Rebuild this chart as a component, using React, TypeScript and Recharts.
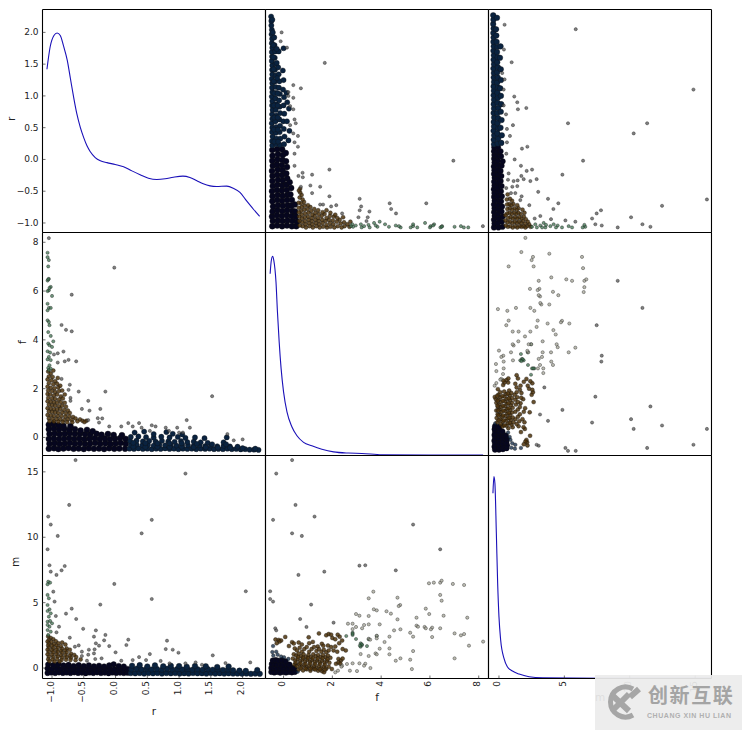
import React from 'react';
import { ComposedChart, Scatter, Line, XAxis, YAxis } from 'recharts';

type Pair = [number, number];

const rDomain: Pair = [-1.15, 2.36];
const fDomain: Pair = [-0.74, 8.4];
const mDomain: Pair = [-0.8, 16.25];
const rTicks = [-1, -0.5, 0, 0.5, 1, 1.5, 2];
const fTicks = [0, 2, 4, 6, 8];
const mTicks = [0, 5, 10, 15];

// density curves, read against the printed scale of their row
const kdeR: Pair[] = [[-1.08, 1.42], [-1.03, 1.77], [-0.97, 1.95], [-0.92, 1.99], [-0.87, 1.95], [-0.82, 1.79], [-0.76, 1.56], [-0.71, 1.27], [-0.66, 0.98], [-0.61, 0.72], [-0.555, 0.505], [-0.5, 0.34], [-0.45, 0.215], [-0.4, 0.126], [-0.32, 0.03], [-0.24, -0.02], [-0.136, -0.05], [-0.005, -0.08], [0.126, -0.116], [0.257, -0.18], [0.387, -0.24], [0.518, -0.295], [0.65, -0.316], [0.78, -0.305], [0.91, -0.28], [1.06, -0.263], [1.17, -0.284], [1.28, -0.337], [1.38, -0.384], [1.487, -0.416], [1.59, -0.426], [1.75, -0.42], [1.853, -0.453], [1.958, -0.52], [2.063, -0.653], [2.17, -0.784], [2.267, -0.895]];
const kdeF: Pair[] = [[-0.55, 6.71], [-0.51, 7.19], [-0.45, 7.42], [-0.4, 7.26], [-0.31, 6.37], [-0.25, 5.14], [-0.18, 3.92], [-0.1, 2.82], [0, 1.87], [0.14, 1.05], [0.34, 0.44], [0.55, 0.07], [0.82, -0.2], [1.16, -0.34], [1.57, -0.48], [2.05, -0.59], [2.66, -0.64], [3.21, -0.655], [4.03, -0.71], [5.94, -0.72], [8.18, -0.72]];
const kdeM: Pair[] = [[-0.46, 13.37], [-0.385, 14.64], [-0.31, 14.13], [-0.2, 10.3], [-0.1, 6.48], [0, 3.93], [0.13, 2.14], [0.385, 0.74], [0.64, 0.1], [1.03, -0.23], [1.54, -0.46], [2.3, -0.66], [3.33, -0.74], [8, -0.78], [16.2, -0.78]];

// r against f
const rfCore: Pair[] = [
  [-1.05, -0.46], [-0.97, -0.44], [-0.9, -0.47], [-0.82, -0.45], [-0.74, -0.43], [-0.66, -0.46], [-0.58, -0.45], [-0.5, -0.47], [-0.42, -0.44], [-0.34, -0.46], [-0.26, -0.45], [-0.18, -0.47], [-0.1, -0.44], [-0.02, -0.46], [0.06, -0.45], [0.15, -0.46],
  [-1.04, -0.26], [-0.96, -0.24], [-0.88, -0.27], [-0.8, -0.25], [-0.72, -0.23], [-0.64, -0.26], [-0.56, -0.24], [-0.48, -0.27], [-0.4, -0.25], [-0.32, -0.23], [-0.24, -0.26], [-0.16, -0.24], [-0.08, -0.27], [0, -0.25], [0.08, -0.23], [0.16, -0.26],
  [-1.05, -0.06], [-0.97, -0.04], [-0.89, -0.07], [-0.81, -0.05], [-0.73, -0.03], [-0.65, -0.06], [-0.57, -0.04], [-0.49, -0.07], [-0.41, -0.05], [-0.33, -0.03], [-0.25, -0.06], [-0.17, -0.04], [-0.09, -0.07], [-0.01, -0.05], [0.07, -0.03], [0.16, -0.06],
  [-1.04, 0.14], [-0.96, 0.16], [-0.88, 0.13], [-0.8, 0.15], [-0.72, 0.17], [-0.64, 0.14], [-0.56, 0.16], [-0.48, 0.13], [-0.4, 0.12], [-0.3, 0.15], [-0.22, 0.11], [-0.12, 0.14], [-0.03, 0.1], [0.1, 0.09],
  [-1.05, 0.34], [-0.97, 0.37], [-0.89, 0.33], [-0.81, 0.36], [-0.73, 0.32], [-0.64, 0.34], [-0.55, 0.28], [-0.45, 0.31], [-0.36, 0.25],
  [-1.05, 0.52], [-0.98, 0.55], [-0.9, 0.5], [-0.82, 0.47], [-0.71, 0.46],
];
const rfBlue: Pair[] = [
  [0.22, -0.46], [0.29, -0.47], [0.36, -0.45], [0.43, -0.47], [0.5, -0.46], [0.57, -0.48], [0.64, -0.46], [0.71, -0.47], [0.78, -0.45], [0.85, -0.47], [0.92, -0.46], [0.99, -0.48], [1.06, -0.46], [1.13, -0.47], [1.2, -0.46], [1.27, -0.48], [1.34, -0.46], [1.41, -0.47], [1.48, -0.46], [1.55, -0.48], [1.62, -0.47], [1.69, -0.48], [1.76, -0.46], [1.83, -0.48], [1.9, -0.47], [1.97, -0.49], [2.04, -0.48], [2.11, -0.5], [2.18, -0.5], [2.25, -0.51],
  [0.24, -0.31], [0.33, -0.29], [0.42, -0.32], [0.51, -0.3], [0.6, -0.33], [0.69, -0.3], [0.78, -0.32], [0.87, -0.31], [0.96, -0.33], [1.05, -0.3], [1.14, -0.32], [1.23, -0.34], [1.32, -0.32], [1.41, -0.35], [1.5, -0.33], [1.6, -0.36], [1.7, -0.34], [1.8, -0.37], [1.92, -0.38],
  [0.23, -0.15], [0.33, -0.13], [0.43, -0.16], [0.53, -0.14], [0.63, -0.17], [0.73, -0.14], [0.83, -0.16], [0.93, -0.18], [1.03, -0.15], [1.13, -0.19], [1.23, -0.17], [1.34, -0.2], [1.45, -0.22], [1.7, -0.2],
  [0.24, 0.02], [0.36, 0.04], [0.48, 0.01], [0.6, -0.01], [0.72, 0.03], [0.85, 0], [0.98, 0.02], [1.1, -0.02], [1.25, 0], [1.4, -0.03], [1.75, 0],
  [0.3, 0.2], [0.45, 0.24], [0.6, 0.14], [0.8, 0.22], [0.9, 0.15], [1.05, 0.12],
  [0.28, -0.38], [0.47, -0.39], [0.66, -0.38], [0.85, -0.39], [1.04, -0.38], [1.23, -0.4], [1.42, -0.41], [1.61, -0.42], [1.8, -0.42], [2, -0.44], [2.2, -0.46],
  [0.28, -0.22], [0.47, -0.23], [0.66, -0.24], [0.85, -0.24], [1.04, -0.24], [1.28, -0.26], [1.52, -0.28], [1.74, -0.28],
];
const rfBrown: Pair[] = [
  [-1.06, 2.7], [-1.02, 2.62], [-1.05, 2.5], [-0.99, 2.48], [-1.07, 2.38], [-1.01, 2.34], [-0.95, 2.3], [-1.05, 2.22], [-0.98, 2.18], [-0.92, 2.2], [-1.07, 2.08], [-1.02, 2.04], [-0.96, 2.02], [-0.9, 2.06],
  [-1.06, 1.92], [-1, 1.9], [-0.95, 1.86], [-0.89, 1.9], [-1.07, 1.78], [-1.03, 1.76], [-0.97, 1.72], [-0.92, 1.76], [-0.86, 1.68], [-1.06, 1.62], [-1, 1.6], [-0.95, 1.58], [-0.89, 1.56], [-0.83, 1.6],
  [-1.07, 1.48], [-1.02, 1.46], [-0.97, 1.44], [-0.92, 1.42], [-0.86, 1.44], [-0.8, 1.42], [-1.05, 1.34], [-1, 1.32], [-0.95, 1.3], [-0.89, 1.28], [-0.84, 1.3], [-0.78, 1.26],
  [-1.07, 1.2], [-1.02, 1.18], [-0.97, 1.16], [-0.92, 1.15], [-0.87, 1.17], [-0.81, 1.13], [-0.75, 1.1], [-1.05, 1.06], [-1, 1.04], [-0.95, 1.02], [-0.9, 1], [-0.84, 1.02], [-0.78, 0.98], [-0.72, 1],
  [-1.07, 0.92], [-1.02, 0.9], [-0.97, 0.88], [-0.91, 0.87], [-0.85, 0.88], [-0.79, 0.85], [-0.73, 0.86], [-0.67, 0.84], [-1.05, 0.78], [-0.99, 0.76], [-0.93, 0.75], [-0.87, 0.74], [-0.81, 0.72], [-0.75, 0.74], [-0.69, 0.72], [-0.63, 0.78], [-0.56, 0.74], [-0.52, 0.68],
  [-1.04, 0.66], [-0.97, 0.65], [-0.9, 0.64], [-0.83, 0.63], [-0.76, 0.62], [-0.68, 0.62], [-0.6, 0.66], [-0.46, 0.68], [-0.49, 0.63],
  [-0.98, 2.74], [-0.91, 2.44], [-0.87, 2.12], [-0.84, 1.92], [-0.8, 1.76],
];
const rfGreen: Pair[] = [
  [-1.07, 7.57], [-1.07, 7.39], [-1.05, 7.27], [-1.06, 7.01], [-1.05, 6.5], [-1.07, 6.43], [-1.06, 6.48], [-1.02, 6.17], [-1.05, 6.03], [-1.07, 6], [-1.04, 6.13], [-1, 5.8], [-1.07, 5.48], [-1.05, 5.31], [-1.02, 5.31], [-1.07, 5.21], [-1.07, 4.8], [-1.05, 4.73], [-1.04, 4.6], [-1.06, 4.32], [-1.02, 4.16], [-0.98, 3.94], [-1.06, 3.85], [-1.04, 3.78], [-1, 3.71], [-1.07, 3.53], [-1.03, 3.48], [-1.05, 3.3], [-1.07, 3.2], [-1.02, 3.17], [-1.04, 2.96], [-1.06, 2.85], [-1.02, 2.82], [-1.05, 2.76],
];
const rfGrey: Pair[] = [
  [-1.05, 8.17], [-0.02, 6.96], [-0.69, 5.85], [-0.85, 4.61], [-0.78, 4.41], [-0.69, 4.35], [-0.82, 3.52], [-0.74, 3.18], [-0.62, 3.12], [-0.8, 3.12], [-0.91, 3.07], [-0.97, 3.4], [-0.91, 3.45], [-0.16, 1.88], [-0.72, 2.16], [-0.74, 1.95], [-0.58, 1.88], [1.52, 1.69], [-0.43, 1.5], [-0.24, 1.17], [-0.41, 1.1], [-0.53, 1.17], [-0.71, 1.62], [-0.71, 1.5], [-0.85, 2.4], [1.12, 0.71], [1.76, 0.14], [2, -0.08], [1.86, -0.12], [1.17, 0.4], [0.57, 0.5], [0.63, 0.45], [0.37, 0.59], [0.2, 0.59], [0.27, 0.45], [0.41, 0.4], [0.79, 0.4], [0.84, 0.27], [0.97, 0.4], [1, 0.2], [1.06, 0.2], [0.54, 0.27], [0.09, 0.45], [-0.1, 0.45], [-0.28, 0.79], [-0.21, 0.78], [-0.26, 0.61], [-0.43, 0.71],
];

// r against m
const rmCore: Pair[] = [
  [-1.07, -0.38], [-1.01, -0.34], [-0.95, -0.38], [-0.89, -0.33], [-0.83, -0.37], [-0.77, -0.34], [-0.71, -0.38], [-0.65, -0.33], [-0.59, -0.37], [-0.53, -0.35], [-0.47, -0.39], [-0.41, -0.34], [-0.35, -0.37], [-0.29, -0.33], [-0.23, -0.38], [-0.17, -0.35], [-0.11, -0.39], [-0.05, -0.34], [0.01, -0.37], [0.07, -0.35], [0.13, -0.38], [0.19, -0.36],
  [-1.07, -0.04], [-1, -0.08], [-0.93, -0.03], [-0.86, -0.07], [-0.79, -0.02], [-0.72, -0.06], [-0.65, -0.03], [-0.58, -0.08], [-0.51, -0.04], [-0.44, -0.08], [-0.37, -0.03], [-0.3, -0.07], [-0.23, -0.04], [-0.16, -0.08], [-0.09, -0.05], [-0.02, -0.09], [0.05, -0.06], [0.12, -0.1], [0.19, -0.07],
  [-1.06, 0.27], [-0.98, 0.22], [-0.9, 0.28], [-0.82, 0.2], [-0.74, 0.24], [-0.66, 0.16], [-0.58, 0.22], [-0.5, 0.15], [-0.42, 0.2], [-0.34, 0.13], [-0.26, 0.18], [-0.18, 0.12], [-0.1, 0.2], [-0.03, 0.28], [0.05, 0.16], [0.13, 0.12],
];
const rmBlue: Pair[] = [
  [0.24, -0.38], [0.31, -0.4], [0.38, -0.37], [0.45, -0.41], [0.52, -0.38], [0.59, -0.4], [0.66, -0.37], [0.73, -0.41], [0.8, -0.38], [0.87, -0.4], [0.94, -0.38], [1.01, -0.41], [1.08, -0.39], [1.15, -0.41], [1.22, -0.38], [1.29, -0.4], [1.36, -0.39], [1.43, -0.42], [1.5, -0.38], [1.57, -0.41], [1.64, -0.39], [1.71, -0.42], [1.78, -0.4], [1.85, -0.42], [1.92, -0.41], [1.99, -0.43], [2.06, -0.41], [2.13, -0.44], [2.2, -0.42], [2.27, -0.44],
  [0.25, -0.1], [0.33, -0.06], [0.41, -0.12], [0.49, -0.05], [0.57, -0.11], [0.65, -0.07], [0.73, -0.13], [0.81, -0.06], [0.89, -0.11], [0.97, -0.08], [1.05, -0.12], [1.13, -0.07], [1.21, -0.13], [1.29, -0.09], [1.37, -0.14], [1.45, -0.08], [1.53, -0.13], [1.61, -0.1], [1.69, -0.15], [1.77, -0.11], [1.85, -0.18], [1.95, -0.2], [2.05, -0.22], [2.23, -0.15],
  [0.26, 0.18], [0.38, 0.22], [0.5, 0.12], [0.62, 0.2], [0.75, 0.14], [0.87, 0.17], [1, 0.15], [1.12, 0.1], [1.25, 0.16], [1.42, 0.14], [1.6, 0.08], [1.78, 0.12],
];
const rmBrown: Pair[] = [
  [-1.06, 2.42], [-1.02, 2.3], [-1.05, 2.15], [-0.98, 2.2], [-1.07, 2.02], [-1.01, 1.98], [-0.94, 2.05], [-1.05, 1.86], [-0.97, 1.82], [-0.9, 1.9], [-0.84, 1.95], [-1.06, 1.72], [-1, 1.68], [-0.93, 1.72], [-0.86, 1.66], [-0.79, 1.8],
  [-1.05, 1.55], [-0.98, 1.52], [-0.91, 1.55], [-0.84, 1.48], [-0.77, 1.5], [-1.07, 1.4], [-1, 1.36], [-0.93, 1.38], [-0.86, 1.32], [-0.79, 1.35], [-0.72, 1.4], [-1.05, 1.22], [-0.98, 1.2], [-0.91, 1.22], [-0.84, 1.16], [-0.77, 1.18], [-0.7, 1.1],
  [-1.07, 1.05], [-1, 1.02], [-0.93, 1.05], [-0.86, 0.98], [-0.79, 1], [-0.72, 0.94], [-0.65, 1], [-1.05, 0.86], [-0.98, 0.84], [-0.91, 0.88], [-0.84, 0.8], [-0.77, 0.82], [-0.7, 0.78], [-0.62, 0.84],
  [-1.06, 0.68], [-0.99, 0.66], [-0.92, 0.7], [-0.85, 0.62], [-0.78, 0.64], [-0.71, 0.62], [-0.63, 0.6], [-0.55, 0.66], [-1.04, 0.52], [-0.96, 0.5], [-0.88, 0.5],
];
const rmGreen: Pair[] = [
  [-1.06, 6.6], [-1.07, 6.4], [-1.03, 6.53], [-1.07, 5.59], [-1.05, 5.33], [-1.07, 4.82], [-1.04, 4.49], [-1.07, 4.36], [-1.02, 4.18], [-1.05, 3.93], [-1.07, 3.55], [-1, 3.42], [-1.04, 3.16], [-1.07, 2.9], [-1.02, 2.78], [-1.06, 2.53], [-1.07, 3.3], [-1.03, 3.6],
];
const rmGrey: Pair[] = [
  [-0.63, 15.9], [1.1, 14.87], [-0.73, 12.47], [-1.06, 11.58], [-1.02, 10.97], [0.57, 11.33], [-0.91, 10.1], [0.41, 10.3], [-1.07, 9.08], [-1.04, 7.86], [-0.8, 7.8], [-0.85, 7.47], [-1.02, 7.37], [-0.93, 7.12], [-0.02, 6.43], [2.05, 5.87], [0.57, 5.28], [-0.24, 4.85], [-0.69, 4.54], [-0.78, 4.16], [-0.96, 5.08], [-0.98, 5.84], [-0.62, 3.75], [-0.94, 3.98], [-0.89, 3.16], [-0.51, 3], [-0.31, 2.88], [-0.93, 2.73], [-0.16, 2.53], [-0.34, 2.4], [-0.72, 2.32], [0.2, 2.17], [-0.18, 2.12], [-0.31, 1.89], [0.81, 2.09], [0.17, 1.76], [-0.26, 1.71], [-0.1, 1.68], [-0.58, 1.73], [-0.64, 1.63], [0.79, 1.45], [0.9, 1.4], [-0.33, 1.43], [-0.42, 1.4], [-0.53, 1.25], [0, 1.2], [0.99, 1.17], [0.54, 1.07], [-0.34, 1.12], [-0.43, 1.02], [1.53, 0.97], [-0.53, 0.92], [0.37, 0.84], [-0.22, 0.74], [-0.32, 0.69], [0.48, 0.61], [0.09, 0.56], [0.27, 0.61], [0.71, 0.54], [2.12, 0.43], [1.26, 0.43], [1.73, 0.38], [1.36, 0.25], [1.1, 0.36], [0.85, 0.36], [-0.45, 0.56],
];

// f against m
const fmCore: Pair[] = [
  [-0.5, -0.3], [-0.38, -0.34], [-0.26, -0.3], [-0.14, -0.35], [-0.02, -0.3], [0.1, -0.34], [0.22, -0.3], [0.34, -0.33], [0.46, -0.3],
  [-0.5, 0], [-0.38, 0.04], [-0.26, -0.02], [-0.14, 0.03], [-0.02, -0.02], [0.1, 0.03], [0.22, -0.02], [0.34, 0.02], [0.44, 0],
  [-0.48, 0.3], [-0.36, 0.34], [-0.24, 0.28], [-0.12, 0.32], [0, 0.28], [0.12, 0.3], [0.24, 0.26],
  [-0.44, 0.58], [-0.32, 0.62], [-0.2, 0.56], [-0.06, 0.6], [0.08, 0.52],
];
const fmBlue: Pair[] = [
  [-0.43, 1.68], [-0.46, 1.22], [-0.3, 1.25], [-0.42, 0.95], [-0.24, 1.02], [-0.1, 0.88], [0.02, 0.82], [0.2, 0.7], [0.5, 0.3], [0.58, -0.28],
];
const fmBrown: Pair[] = [
  [-0.33, 2.18], [-0.2, 2.15], [-0.1, 2.1], [-0.17, 2.02], [-0.28, 1.9], [0.07, 2.38], [0.35, 1.98], [0.22, 1.68], [0.42, 1.88], [0.62, 1.95], [0.75, 1.8], [1.03, 2.35], [1.05, 1.9], [1.2, 2], [1.45, 2.65], [1.57, 1.85], [1.75, 2.5], [1.85, 2.6], [1.95, 2.55], [2, 2.3], [2.12, 2.2], [2.22, 2.55], [2.3, 2.4], [2.4, 2.1], [1.4, 1.65], [1.63, 1.7], [1.82, 1.72], [1.95, 1.6], [2.12, 1.65], [2.28, 1.9], [2.42, 1.45], [2.55, 1.35], [2.2, 1.25], [2.05, 1.35],
  [0.46, 1.5], [0.55, 1.35], [0.66, 1.55], [0.75, 1.25], [0.85, 1.45], [0.95, 1.6], [1.05, 1.25], [1.15, 1.45], [1.25, 1.6], [1.35, 1.3], [1.45, 1.45], [1.55, 1.25], [1.65, 1.4], [1.75, 1.2], [1.85, 1.35],
  [0.42, 1.05], [0.52, 0.95], [0.62, 1.1], [0.72, 0.9], [0.82, 1.05], [0.92, 0.85], [1.02, 1], [1.12, 0.85], [1.22, 1.05], [1.32, 0.9], [1.42, 1], [1.52, 0.85], [1.62, 1], [1.72, 0.82], [1.82, 0.95], [1.92, 0.78], [2.25, 0.7], [2.35, 0.58], [2.42, 0.72],
  [0.38, 0.72], [0.48, 0.58], [0.58, 0.7], [0.68, 0.52], [0.78, 0.66], [0.88, 0.5], [0.98, 0.64], [1.08, 0.48], [1.18, 0.62], [1.28, 0.46], [1.38, 0.6], [1.48, 0.45], [1.58, 0.58], [1.68, 0.42], [1.78, 0.55], [1.88, 0.4], [2.15, 0.32], [2.25, 0.42], [2.33, 0.33],
  [0.45, 0.28], [0.55, 0.14], [0.65, 0.28], [0.75, 0.1], [0.85, 0.24], [0.95, 0.06], [1.05, 0.2], [1.15, 0.04], [1.25, 0.18], [1.35, 0], [1.45, 0.16], [1.55, -0.02], [1.65, 0.12], [1.75, -0.05], [1.85, 0.1],
  [0.62, -0.12], [0.8, -0.18], [0.95, -0.1], [1.1, -0.2], [1.25, -0.08], [1.42, -0.2], [1.58, -0.25], [1.66, -0.32], [1.98, -0.08],
  [0.5, 0.42], [0.7, 0.36], [0.9, 0.32], [1.1, 0.34], [1.3, 0.3], [1.5, 0.3], [1.7, 0.26], [0.6, 0.84], [0.8, 0.78], [1, 0.76], [1.2, 0.74], [1.4, 0.72], [1.6, 0.74], [1.8, 0.68], [0.7, -0.02], [0.9, -0.04], [1.1, -0.06], [1.3, -0.12], [1.5, -0.1], [1.7, -0.14],
];
const fmGreen: Pair[] = [
  [2.83, 2.7], [2.83, 2.53], [2.97, 2.22], [3.16, 1.89], [3.22, 1.76], [3.16, 1.63], [3.42, 1.68], [2.57, 2.45], [3.2, 1.82], [3.13, 1.72], [3.49, 2.2], [3.82, 2.45], [2.83, 2.62],
];
const fmDark: Pair[] = [
  [0.35, 15.9], [-0.3, 14.87], [0.49, 12.47], [1.27, 11.58], [-0.43, 11.33], [5.31, 10.97], [0.35, 10.3], [0.75, 10.1], [6.42, 9.08], [3.11, 7.83], [3.35, 7.86], [4.6, 7.47], [1.67, 7.37], [0.61, 7.12], [-0.55, 5.87], [-0.55, 5.28], [-0.43, 5.08], [1.13, 4.85], [2.05, 3.47], [0.68, 3.75], [0.94, 3.14], [-0.34, 3.04], [-0.3, 2.88],
];
const fmOpen: Pair[] = [
  [5.96, 6.48], [6.16, 6.53], [6.42, 6.53], [6.48, 6.68], [6.94, 6.43], [7.4, 6.35], [3.68, 5.84], [3.49, 5.33], [4.67, 5.38], [6.42, 5.59], [6.48, 5.15], [4.78, 4.82], [4.72, 4.74], [3.7, 4.49], [3.82, 4.41], [4.22, 4.34], [4.4, 4.16], [5.83, 4.54], [5.97, 4.13], [6.56, 4], [2.97, 4.13], [3.11, 4], [3.49, 3.98], [5.45, 3.85], [7.53, 3.85], [4.67, 3.72], [2.64, 3.39], [2.83, 3.39], [3.3, 3.29], [3.49, 3.34], [3.94, 3.34], [5.45, 3.24], [5.51, 3.16], [5.78, 3.14], [5.83, 3.04], [6.09, 3.09], [6.04, 2.96], [6.42, 3.04], [2.97, 3.14], [2.83, 2.98], [3.22, 3.04], [4.79, 2.96], [4.53, 2.88], [5.19, 2.7], [5.31, 2.4], [6.09, 2.37], [7.01, 2.65], [7.4, 2.6], [7.27, 2.5], [4.34, 2.4], [3.82, 2.47], [3.82, 2.27], [3.49, 2.24], [3.55, 2.17], [4.14, 1.99], [7.6, 1.71], [8.18, 2.02], [3.94, 1.48], [4.34, 1.5], [3.77, 1.12], [3.82, 1.05], [4.34, 1.05], [5.31, 1.3], [4.79, 0.74], [4.6, 0.56], [5.19, 0.64], [7.01, 0.74], [5.26, -0.08], [3.49, 0.92], [3.16, 1.07], [3.35, 0.33], [3.11, 0.36], [3.56, 0], [3.3, 0.18], [3.01, -0.23], [2.72, -0.2], [2.83, 0.36], [2.6, 0.31], [2.4, 0.18], [2.23, -0.2], [2.12, -0.33], [2.37, 0.1],
];

const NAVY = '#06061f';
const BLUE = '#0a2340';
const BROWN = '#4d320b';
const GREEN = '#3f7350';
const GREY = '#555555';
const PALE = '#a3a396';
const CURVE = '#1a10b8';

const toPoints = (list: Pair[]) => list.map(([x, y]) => ({ x, y }));
const swap = (list: Pair[]): Pair[] => list.map(([x, y]) => [y, x]);

const marker = (fill: string, r: number, opacity = 0.75) => (p: any) => (
  <circle cx={p.cx} cy={p.cy} r={r} fill={fill} fillOpacity={opacity} stroke="#111" strokeOpacity={0.6} strokeWidth={0.6} />
);

const LEFT = 40.5;
const TOP = 2.5;
const BOTTOM = 50.5;
const SIZE = 223;
const tickFont = { fontFamily: 'DejaVu Sans', fontSize: 9, fill: '#222' };
const fmt = (v: number, digits: number) => v.toFixed(digits).replace('-', '\u2212');

type AxisInfo = { domain: Pair; ticks: number[]; digits: number };
const axes: AxisInfo[] = [
  { domain: rDomain, ticks: rTicks, digits: 1 },
  { domain: fDomain, ticks: fTicks, digits: 0 },
  { domain: mDomain, ticks: mTicks, digits: 0 },
];
const frameLine = { stroke: '#000', strokeWidth: 1.1 };
const tickLine = { stroke: '#333', strokeWidth: 0.7 };

function Panel({ col, row, xLabel, xLabelOffset = 0, yLabel, yLabelOffset = 0, children }: any) {
  const xa = axes[col];
  const ya = axes[row];
  const bottomRow = row === 2;
  const leftCol = col === 0;
  return (
    <div style={{ position: 'absolute', left: 2 + SIZE * col, top: 7 + SIZE * row }}>
      <ComposedChart width={LEFT + SIZE + 2.5} height={TOP + SIZE + BOTTOM} margin={{ top: TOP, right: 2.5, bottom: 0, left: 0 }}>
        <XAxis
          xAxisId={0}
          dataKey="x"
          type="number"
          domain={xa.domain}
          ticks={xa.ticks}
          interval={0}
          height={BOTTOM}
          axisLine={frameLine}
          tickLine={tickLine}
          tickSize={-3}
          tickMargin={7}
          tick={
            bottomRow
              ? (p: any) => (
                  <text {...tickFont} x={p.x} y={p.y} textAnchor="end" dominantBaseline="central" transform={`rotate(-90 ${p.x - 1.5} ${p.y}) `}>
                    {fmt(p.payload.value, xa.digits)}
                  </text>
                )
              : false
          }
          label={xLabel ? { value: xLabel, position: 'insideBottom', offset: xLabelOffset, style: { fontFamily: 'DejaVu Sans', fontSize: 10.5, fill: '#222' } } : undefined}
        />
        <XAxis xAxisId="top" orientation="top" type="number" domain={xa.domain} ticks={xa.ticks} interval={0} height={0.01} axisLine={frameLine} tickLine={tickLine} tickSize={-3} tick={false} />
        <YAxis
          yAxisId={0}
          dataKey="y"
          type="number"
          domain={ya.domain}
          ticks={ya.ticks}
          interval={0}
          width={LEFT}
          axisLine={frameLine}
          tickLine={tickLine}
          tickSize={-3}
          tickMargin={7}
          tick={leftCol ? (p: any) => (
            <text {...tickFont} x={p.x} y={p.y} textAnchor="end" dominantBaseline="central">
              {fmt(p.payload.value, ya.digits)}
            </text>
          ) : false}
          label={yLabel ? { value: yLabel, angle: -90, position: 'insideLeft', offset: yLabelOffset, style: { fontFamily: 'DejaVu Sans', fontSize: 10.5, fill: '#222' } } : undefined}
        />
        <YAxis yAxisId="right" orientation="right" type="number" domain={ya.domain} ticks={ya.ticks} interval={0} width={0.01} axisLine={frameLine} tickLine={tickLine} tickSize={-3} tick={false} />
        {children}
      </ComposedChart>
    </div>
  );
}

const kdeLine = (list: Pair[]) => (
  <Line data={toPoints(list)} dataKey="y" type="monotone" stroke={CURVE} strokeWidth={1.1} dot={false} isAnimationActive={false} />
);

const series = (list: Pair[], fill: string, r: number, opacity?: number) => (
  <Scatter data={toPoints(list)} shape={marker(fill, r, opacity)} isAnimationActive={false} />
);

function Watermark() {
  return (
    <div style={{ position: 'absolute', left: 595, top: 675, width: 147, height: 55, background: 'rgba(236,236,236,0.93)' }}>
      <svg width={56} height={55} style={{ position: 'absolute', left: 0, top: 0 }}>
        <path d="M38 14 A 15 15 0 1 0 38 40" fill="none" stroke="#a6a6a6" strokeWidth={5} />
        <path d="M17 20 L34 36 M34 19 L26 27 M44 14 L35 22 M26 27 L18 35" stroke="#a6a6a6" strokeWidth={6} fill="none" />
      </svg>
      <div style={{ position: 'absolute', left: 53, top: 9, fontFamily: 'Noto Sans CJK SC', fontWeight: 700, fontSize: 20, letterSpacing: 1.6, lineHeight: '22px', color: '#a4a4a4', whiteSpace: 'nowrap' }}>创新互联</div>
      <div style={{ position: 'absolute', left: 52, top: 37, fontFamily: 'Liberation Sans', fontWeight: 700, fontSize: 7, letterSpacing: 0.55, lineHeight: '8px', color: '#b0b0b0', whiteSpace: 'nowrap' }}>CHUANG XIN HU LIAN</div>
    </div>
  );
}

export default function App() {
  return (
    <div style={{ position: 'absolute', left: 0, top: 0, width: 742, height: 730, overflow: 'hidden', background: '#fff' }}>
      <Panel col={0} row={0} yLabel="r" yLabelOffset={9}>{kdeLine(kdeR)}</Panel>
      <Panel col={1} row={0}>
        {series(swap(rfCore), NAVY, 3, 1)}
        {series(swap(rfBlue), BLUE, 2.6, 1)}
        {series(swap(rfBrown), BROWN, 2, 0.85)}
        {series(swap(rfGreen), GREEN, 1.6)}
        {series(swap(rfGrey), GREY, 1.6)}
      </Panel>
      <Panel col={2} row={0}>
        {series(swap(rmCore), NAVY, 2.8, 1)}
        {series(swap(rmBlue), BLUE, 2.8, 1)}
        {series(swap(rmBrown), BROWN, 2, 0.85)}
        {series(swap(rmGreen), GREEN, 1.6)}
        {series(swap(rmGrey), GREY, 1.6)}
      </Panel>
      <Panel col={0} row={1} yLabel="f" yLabelOffset={20}>
        {series(rfCore, NAVY, 3, 1)}
        {series(rfBlue, BLUE, 2.6, 1)}
        {series(rfBrown, BROWN, 2, 0.85)}
        {series(rfGreen, GREEN, 1.6)}
        {series(rfGrey, GREY, 1.6)}
      </Panel>
      <Panel col={1} row={1}>{kdeLine(kdeF)}</Panel>
      <Panel col={2} row={1}>
        {series(swap(fmCore), NAVY, 2.8, 1)}
        {series(swap(fmBlue), BLUE, 1.8)}
        {series(swap(fmBrown), BROWN, 2, 0.85)}
        {series(swap(fmGreen), GREEN, 1.6)}
        {series(swap(fmOpen), PALE, 1.6)}
        {series(swap(fmDark), GREY, 1.6)}
      </Panel>
      <Panel col={0} row={2} xLabel="r" xLabelOffset={14} yLabel="m" yLabelOffset={13}>
        {series(rmCore, NAVY, 2.8, 1)}
        {series(rmBlue, BLUE, 2.8, 1)}
        {series(rmBrown, BROWN, 2, 0.85)}
        {series(rmGreen, GREEN, 1.6)}
        {series(rmGrey, GREY, 1.6)}
      </Panel>
      <Panel col={1} row={2} xLabel="f" xLabelOffset={28}>
        {series(fmCore, NAVY, 2.8, 1)}
        {series(fmBlue, BLUE, 1.8)}
        {series(fmBrown, BROWN, 2, 0.85)}
        {series(fmGreen, GREEN, 1.6)}
        {series(fmOpen, PALE, 1.6)}
        {series(fmDark, GREY, 1.6)}
      </Panel>
      <Panel col={2} row={2} xLabel="m" xLabelOffset={28}>{kdeLine(kdeM)}</Panel>
      <Watermark />
    </div>
  );
}
